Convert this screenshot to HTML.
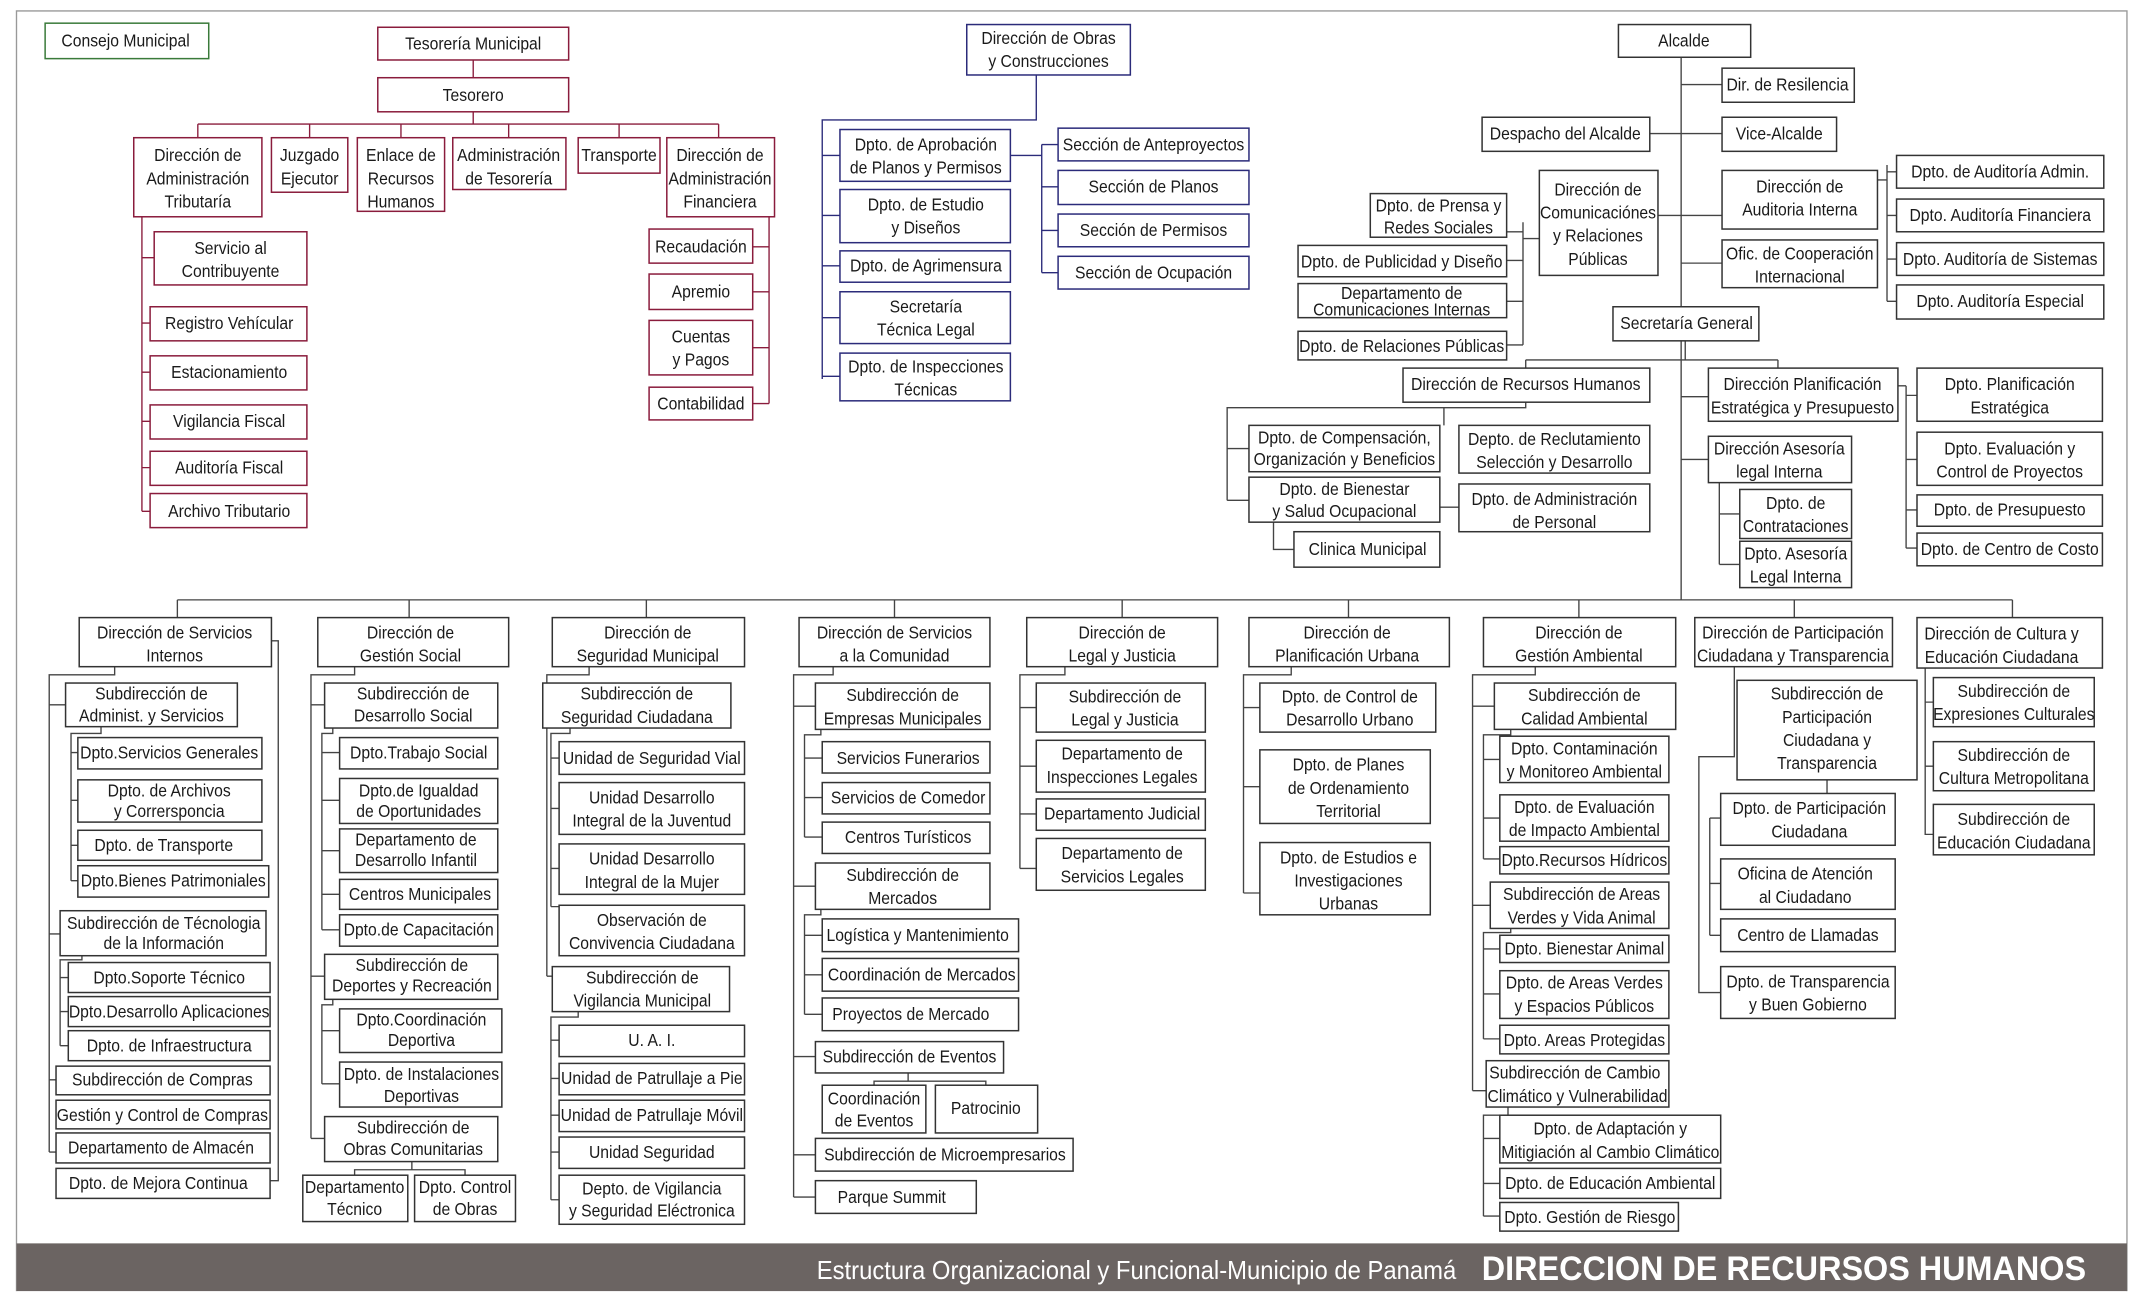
<!DOCTYPE html>
<html><head><meta charset="utf-8"><style>
html,body{margin:0;padding:0;background:#fff;width:2138px;height:1302px;overflow:hidden}
svg{display:block}
text{font-family:"Liberation Sans Narrow","Liberation Sans",sans-serif;font-size:12.8px;fill:#1a1a1a;text-anchor:middle;dominant-baseline:central;transform-box:fill-box;transform-origin:center;transform:scaleX(0.9)}
text.f{transform-origin:right center;transform:scaleX(0.92)}
text.h{transform-origin:right center;transform:scaleX(0.95)}
rect{fill:#fff;stroke:#333;stroke-width:1.1}
.r rect{stroke:#8a1c3c}
.n rect{stroke:#2b2b7a}
.g rect{stroke:#3a7a3a}
path{fill:none;stroke:#444;stroke-width:1}
.r path{stroke:#8a1c3c}
.n path{stroke:#2b2b7a}
</style></head><body>
<svg width="2138" height="1302" viewBox="0 0 1568 955" xmlns="http://www.w3.org/2000/svg">
<path d="M12 947V8H1560V947" style="stroke:#999"/>
<g class="g"><rect x="33" y="17" width="120" height="26"/><text x="92" y="30">Consejo Municipal</text></g>

<g class="r">
<path d="M347 44V57M347 82V91M145 91H527M145 91V101M227 91V101M294 91V101M373 91V101M454 91V101M527 91V101"/>
<path d="M104 159V375M104 189H113M104 237H110M104 273H110M104 309H110M104 343H110M104 375H110"/>
<path d="M564 159V296M552 181H564M552 214H564M552 255H564M552 296H564"/>
<rect x="277" y="20" width="140" height="24"/><text x="347" y="32">Tesorería Municipal</text>
<rect x="277" y="57" width="140" height="25"/><text x="347" y="70">Tesorero</text>
<rect x="98" y="101" width="94" height="58"/><text x="145" y="114">Dirección de</text><text x="145" y="131">Administración</text><text x="145" y="148">Tributaría</text>
<rect x="199" y="101" width="56" height="40"/><text x="227" y="114">Juzgado</text><text x="227" y="131">Ejecutor</text>
<rect x="262" y="101" width="64" height="54"/><text x="294" y="114">Enlace de</text><text x="294" y="131">Recursos</text><text x="294" y="148">Humanos</text>
<rect x="332" y="101" width="83" height="38"/><text x="373" y="114">Administración</text><text x="373" y="131">de Tesorería</text>
<rect x="424" y="101" width="60" height="26"/><text x="454" y="114">Transporte</text>
<rect x="489" y="101" width="79" height="58"/><text x="528" y="114">Dirección de</text><text x="528" y="131">Administración</text><text x="528" y="148">Financiera</text>
<rect x="113" y="170" width="112" height="39"/><text x="169" y="182">Servicio al</text><text x="169" y="199">Contribuyente</text>
<rect x="110" y="225" width="115" height="25"/><text x="168" y="237">Registro Vehícular</text>
<rect x="110" y="261" width="115" height="25"/><text x="168" y="273">Estacionamiento</text>
<rect x="110" y="297" width="115" height="25"/><text x="168" y="309">Vigilancia Fiscal</text>
<rect x="110" y="331" width="115" height="25"/><text x="168" y="343">Auditoría Fiscal</text>
<rect x="110" y="362" width="115" height="25"/><text x="168" y="375">Archivo Tributario</text>
<rect x="476" y="168" width="76" height="25"/><text x="514" y="181">Recaudación</text>
<rect x="476" y="201" width="76" height="26"/><text x="514" y="214">Apremio</text>
<rect x="476" y="235" width="76" height="40"/><text x="514" y="247">Cuentas</text><text x="514" y="264">y Pagos</text>
<rect x="476" y="284" width="76" height="24"/><text x="514" y="296">Contabilidad</text>
</g>

<g class="n">
<path d="M760 55V88H603V278M603 114H616M603 158H616M603 195H616M603 233H616M603 276H616M741 114H764M764 106V200M764 106H776M764 137H776M764 169H776M764 200H776"/>
<rect x="709" y="18" width="120" height="37"/><text x="769" y="28">Dirección de Obras</text><text x="769" y="45">y Construcciones</text>
<rect x="616" y="95" width="125" height="38"/><text x="679" y="106">Dpto. de Aprobación</text><text x="679" y="123">de Planos y Permisos</text>
<rect x="616" y="139" width="125" height="39"/><text x="679" y="150">Dpto. de Estudio</text><text x="679" y="167">y Diseños</text>
<rect x="616" y="184" width="125" height="23"/><text x="679" y="195">Dpto. de Agrimensura</text>
<rect x="616" y="214" width="125" height="38"/><text x="679" y="225">Secretaría</text><text x="679" y="242">Técnica Legal</text>
<rect x="616" y="259" width="125" height="35"/><text x="679" y="269">Dpto. de Inspecciones</text><text x="679" y="286">Técnicas</text>
<rect x="776" y="94" width="140" height="24"/><text x="846" y="106">Sección de Anteproyectos</text>
<rect x="776" y="125" width="140" height="25"/><text x="846" y="137">Sección de Planos</text>
<rect x="776" y="157" width="140" height="24"/><text x="846" y="169">Sección de Permisos</text>
<rect x="776" y="188" width="140" height="24"/><text x="846" y="200">Sección de Ocupación</text>
</g>

<!-- Alcalde -->
<path d="M1233 42V440M1233 62H1263M1233 98H1263M1210 98H1233M1216 158H1263M1233 193H1263M1377 132H1384M1384 121V221M1384 126H1391M1384 158H1391M1384 190H1391M1384 221H1391"/>
<path d="M1117 163V253M1105 170H1117M1105 191H1117M1105 221H1117M1105 253H1117M1117 175H1129"/>
<path d="M1236 250V264M1119 264H1304M1119 264V270M1304 264V270M1233 291H1253M1233 337H1253M1392 283H1398M1398 283V402M1398 290H1406M1398 337H1406M1398 374H1406M1398 402H1406M1261 354V414M1261 377H1276M1261 414H1276"/>
<path d="M1119 295V299H900V367M900 329H916M900 367H916M1059 299V312M1056 372H1070M934 383V403H949"/>
<rect x="1187" y="18" width="97" height="24"/><text x="1235" y="30">Alcalde</text>
<rect x="1263" y="50" width="97" height="25"/><text x="1311" y="62">Dir. de Resilencia</text>
<rect x="1263" y="86" width="84" height="25"/><text x="1305" y="98">Vice-Alcalde</text>
<rect x="1087" y="86" width="123" height="25"/><text x="1148" y="98">Despacho del Alcalde</text>
<rect x="1129" y="125" width="87" height="77"/><text x="1172" y="139">Dirección de</text><text x="1172" y="156">Comunicaciónes</text><text x="1172" y="173">y Relaciones</text><text x="1172" y="190">Públicas</text>
<rect x="1005" y="142" width="100" height="32"/><text x="1055" y="151">Dpto. de Prensa y</text><text x="1055" y="167">Redes Sociales</text>
<rect x="952" y="180" width="153" height="23"/><text x="1028" y="192">Dpto. de Publicidad y Diseño</text>
<rect x="952" y="208" width="153" height="25"/><text x="1028" y="215">Departamento de</text><text x="1028" y="227">Comunicaciones Internas</text>
<rect x="952" y="243" width="153" height="21"/><text x="1028" y="254">Dpto. de Relaciones Públicas</text>
<rect x="1263" y="125" width="114" height="43"/><text x="1320" y="137">Dirección de</text><text x="1320" y="154">Auditoria Interna</text>
<rect x="1263" y="176" width="114" height="35"/><text x="1320" y="186">Ofic. de Cooperación</text><text x="1320" y="203">Internacional</text>
<rect x="1391" y="114" width="152" height="24"/><text x="1467" y="126">Dpto. de Auditoría Admin.</text>
<rect x="1391" y="146" width="152" height="24"/><text x="1467" y="158">Dpto. Auditoría Financiera</text>
<rect x="1391" y="178" width="152" height="24"/><text x="1467" y="190">Dpto. Auditoría de Sistemas</text>
<rect x="1391" y="209" width="152" height="25"/><text x="1467" y="221">Dpto. Auditoría Especial</text>
<rect x="1183" y="225" width="107" height="25"/><text x="1237" y="237">Secretaría General</text>
<rect x="1029" y="270" width="181" height="25"/><text x="1119" y="282">Dirección de Recursos Humanos</text>
<rect x="1253" y="270" width="139" height="39"/><text x="1322" y="282">Dirección Planificación</text><text x="1322" y="299">Estratégica y Presupuesto</text>
<rect x="1406" y="270" width="136" height="39"/><text x="1474" y="282">Dpto. Planificación</text><text x="1474" y="299">Estratégica</text>
<rect x="1406" y="317" width="136" height="39"/><text x="1474" y="329">Dpto. Evaluación y</text><text x="1474" y="346">Control de Proyectos</text>
<rect x="1406" y="363" width="136" height="23"/><text x="1474" y="374">Dpto. de Presupuesto</text>
<rect x="1406" y="391" width="136" height="24"/><text x="1474" y="403">Dpto. de Centro de Costo</text>
<rect x="1253" y="320" width="105" height="34"/><text x="1305" y="329">Dirección Asesoría</text><text x="1305" y="346">legal Interna</text>
<rect x="1276" y="359" width="82" height="36"/><text x="1317" y="369">Dpto. de</text><text x="1317" y="386">Contrataciones</text>
<rect x="1276" y="397" width="82" height="34"/><text x="1317" y="406">Dpto. Asesoría</text><text x="1317" y="423">Legal Interna</text>
<rect x="916" y="312" width="140" height="34"/><text x="986" y="321">Dpto. de Compensación,</text><text x="986" y="337">Organización y Beneficios</text>
<rect x="1070" y="312" width="140" height="35"/><text x="1140" y="322">Depto. de Reclutamiento</text><text x="1140" y="339">Selección y Desarrollo</text>
<rect x="916" y="350" width="140" height="33"/><text x="986" y="359">Dpto. de Bienestar</text><text x="986" y="375">y Salud Ocupacional</text>
<rect x="1070" y="355" width="140" height="35"/><text x="1140" y="366">Dpto. de Administración</text><text x="1140" y="383">de Personal</text>
<rect x="949" y="390" width="107" height="26"/><text x="1003" y="403">Clinica Municipal</text>

<!-- main bus -->
<path d="M130 440H1476M130 440V453M300 440V453M474 440V453M656 440V453M823 440V453M989 440V453M1158 440V453M1316 440V453M1476 440V453"/>

<!-- col1 -->
<path d="M84 489V495H36V845M36 517H48M36 685H44M36 792H41M36 845H41M74 533V538H52V646M52 552H57M52 587H57M52 620H57M52 646H57M60 701V704H44V767M44 717H50M44 742H50M44 767H50M199 470H204V866H198"/>
<rect x="58" y="453" width="141" height="36"/><text x="128" y="464">Dirección de Servicios</text><text x="128" y="481">Internos</text>
<rect x="48" y="501" width="126" height="32"/><text x="111" y="509">Subdirección de</text><text x="111" y="525">Administ. y Servicios</text>
<rect x="57" y="541" width="135" height="23"/><text x="124" y="552">Dpto.Servicios Generales</text>
<rect x="57" y="572" width="135" height="31"/><text x="124" y="580">Dpto. de Archivos</text><text x="124" y="595">y Corrersponcia</text>
<rect x="57" y="609" width="135" height="22"/><text x="120" y="620">Dpto. de Transporte</text>
<rect x="57" y="635" width="140" height="23"/><text x="127" y="646">Dpto.Bienes Patrimoniales</text>
<rect x="44" y="668" width="151" height="33"/><text x="120" y="677">Subdirección de Técnologia</text><text x="120" y="692">de la Información</text>
<rect x="50" y="706" width="148" height="22"/><text x="124" y="717">Dpto.Soporte Técnico</text>
<rect x="50" y="731" width="148" height="22"/><text x="124" y="742">Dpto.Desarrollo Aplicaciones</text>
<rect x="50" y="756" width="148" height="22"/><text x="124" y="767">Dpto. de Infraestructura</text>
<rect x="41" y="782" width="157" height="21"/><text x="119" y="792">Subdirección de Compras</text>
<rect x="41" y="807" width="157" height="21"/><text x="119" y="818">Gestión y Control de Compras</text>
<rect x="41" y="831" width="157" height="22"/><text x="118" y="842">Departamento de Almacén</text>
<rect x="41" y="857" width="157" height="22"/><text x="116" y="868">Dpto. de Mejora Continua</text>

<!-- col2 -->
<path d="M260 489V495H228V835M228 517H238M228 716H238M228 835H238M244 534V538H236V682M236 552H249M236 587H249M236 624H249M236 656H249M236 682H249M244 733V737H236V795M236 756H249M236 795H249M302 852V858H260V862M302 858H341V862"/>
<rect x="233" y="453" width="140" height="36"/><text x="301" y="464">Dirección de</text><text x="301" y="481">Gestión Social</text>
<rect x="238" y="501" width="127" height="33"/><text x="303" y="509">Subdirección de</text><text x="303" y="525">Desarrollo Social</text>
<rect x="249" y="541" width="116" height="23"/><text x="307" y="552">Dpto.Trabajo Social</text>
<rect x="249" y="571" width="116" height="33"/><text x="307" y="580">Dpto.de Igualdad</text><text x="307" y="595">de Oportunidades</text>
<rect x="249" y="608" width="116" height="32"/><text x="305" y="616">Departamento de</text><text x="305" y="631">Desarrollo Infantil</text>
<rect x="249" y="645" width="116" height="22"/><text x="308" y="656">Centros Municipales</text>
<rect x="249" y="671" width="116" height="23"/><text x="307" y="682">Dpto.de Capacitación</text>
<rect x="238" y="700" width="127" height="33"/><text x="302" y="708">Subdirección de</text><text x="302" y="723">Deportes y Recreación</text>
<rect x="249" y="740" width="119" height="32"/><text x="309" y="748">Dpto.Coordinación</text><text x="309" y="763">Deportiva</text>
<rect x="249" y="779" width="119" height="33"/><text x="309" y="788">Dpto. de Instalaciones</text><text x="309" y="804">Deportivas</text>
<rect x="238" y="819" width="127" height="33"/><text x="303" y="827">Subdirección de</text><text x="303" y="843">Obras Comunitarias</text>
<rect x="222" y="862" width="77" height="34"/><text x="260" y="871">Departamento</text><text x="260" y="887">Técnico</text>
<rect x="304" y="862" width="74" height="34"/><text x="341" y="871">Dpto. Control</text><text x="341" y="887">de Obras</text>

<!-- col3 -->
<path d="M432 489V495H401V716M401 517H398M401 716H405M418 534V538H404V665M404 556H410M404 593H410M404 637H410M404 665H410M424 742V746H404V880M404 763H410M404 791H410M404 818H410M404 845H410M404 880H410"/>
<rect x="405" y="453" width="141" height="36"/><text x="475" y="464">Dirección de</text><text x="475" y="481">Seguridad Municipal</text>
<rect x="398" y="501" width="138" height="33"/><text x="467" y="509">Subdirección de</text><text x="467" y="526">Seguridad Ciudadana</text>
<rect x="410" y="544" width="136" height="24"/><text x="478" y="556">Unidad de Seguridad Vial</text>
<rect x="410" y="574" width="136" height="38"/><text x="478" y="585">Unidad Desarrollo</text><text x="478" y="602">Integral de la Juventud</text>
<rect x="410" y="619" width="136" height="37"/><text x="478" y="630">Unidad Desarrollo</text><text x="478" y="647">Integral de la Mujer</text>
<rect x="410" y="664" width="136" height="37"/><text x="478" y="675">Observación de</text><text x="478" y="692">Convivencia Ciudadana</text>
<rect x="405" y="709" width="130" height="33"/><text x="471" y="717">Subdirección de</text><text x="471" y="734">Vigilancia Municipal</text>
<rect x="410" y="752" width="136" height="23"/><text x="478" y="763">U. A. I.</text>
<rect x="410" y="780" width="136" height="23"/><text x="478" y="791">Unidad de Patrullaje a Pie</text>
<rect x="410" y="807" width="136" height="23"/><text x="478" y="818">Unidad de Patrullaje Móvil</text>
<rect x="410" y="834" width="136" height="23"/><text x="478" y="845">Unidad Seguridad</text>
<rect x="410" y="862" width="136" height="36"/><text x="478" y="872">Depto. de Vigilancia</text><text x="478" y="888">y Seguridad Eléctronica</text>

<!-- col4 -->
<path d="M611 489V495H582V878M582 518H598M582 650H598M582 775H598M582 847H598M582 878H598M602 535V539H590V614M590 556H603M590 585H603M590 614H603M602 667V671H590V744M590 686H603M590 715H603M590 744H603M666 787V793H641V796M666 793H723V796"/>
<rect x="586" y="453" width="140" height="36"/><text x="656" y="464">Dirección de Servicios</text><text x="656" y="481">a la Comunidad</text>
<rect x="598" y="501" width="128" height="34"/><text x="662" y="510">Subdirección de</text><text x="662" y="527">Empresas Municipales</text>
<rect x="603" y="544" width="123" height="23"/><text x="666" y="556">Servicios Funerarios</text>
<rect x="603" y="574" width="123" height="23"/><text x="666" y="585">Servicios de Comedor</text>
<rect x="603" y="603" width="123" height="23"/><text x="666" y="614">Centros Turísticos</text>
<rect x="598" y="633" width="128" height="34"/><text x="662" y="642">Subdirección de</text><text x="662" y="659">Mercados</text>
<rect x="603" y="674" width="144" height="24"/><text x="673" y="686">Logística y Mantenimiento</text>
<rect x="603" y="703" width="144" height="24"/><text x="676" y="715">Coordinación de Mercados</text>
<rect x="603" y="732" width="144" height="24"/><text x="668" y="744">Proyectos de Mercado</text>
<rect x="598" y="764" width="138" height="23"/><text x="667" y="775">Subdirección de Eventos</text>
<rect x="603" y="796" width="76" height="35"/><text x="641" y="806">Coordinación</text><text x="641" y="822">de Eventos</text>
<rect x="686" y="796" width="75" height="35"/><text x="723" y="813">Patrocinio</text>
<rect x="598" y="835" width="189" height="24"/><text x="693" y="847">Subdirección de Microempresarios</text>
<rect x="598" y="866" width="118" height="24"/><text x="654" y="878">Parque Summit</text>

<!-- col5 -->
<path d="M781 489V495H748V637M748 519H760M748 562H760M748 597H760M748 637H760"/>
<rect x="753" y="453" width="140" height="36"/><text x="823" y="464">Dirección de</text><text x="823" y="481">Legal y Justicia</text>
<rect x="760" y="501" width="124" height="36"/><text x="825" y="511">Subdirección de</text><text x="825" y="528">Legal y Justicia</text>
<rect x="760" y="543" width="124" height="38"/><text x="823" y="553">Departamento de</text><text x="823" y="570">Inspecciones Legales</text>
<rect x="760" y="586" width="124" height="23"/><text x="823" y="597">Departamento Judicial</text>
<rect x="760" y="615" width="124" height="38"/><text x="823" y="626">Departamento de</text><text x="823" y="643">Servicios Legales</text>

<!-- col6 -->
<path d="M947 489V495H912V655M912 519H924M912 577H924M912 655H930"/>
<rect x="916" y="453" width="147" height="36"/><text x="988" y="464">Dirección de</text><text x="988" y="481">Planificación Urbana</text>
<rect x="924" y="501" width="129" height="36"/><text x="990" y="511">Dpto. de Control de</text><text x="990" y="528">Desarrollo Urbano</text>
<rect x="924" y="550" width="125" height="54"/><text x="989" y="561">Dpto. de Planes</text><text x="989" y="578">de Ordenamiento</text><text x="989" y="595">Territorial</text>
<rect x="924" y="618" width="125" height="53"/><text x="989" y="629">Dpto. de Estudios e</text><text x="989" y="646">Investigaciones</text><text x="989" y="663">Urbanas</text>
<!-- col7 -->
<path d="M1126 489V495H1080V800M1080 518H1096M1080 664H1093M1080 800H1090M1108 535V539H1088V630M1088 557H1100M1088 600H1100M1088 630H1100M1108 681V684H1088V762M1088 696H1100M1088 729H1100M1088 762H1100M1106 812V818H1088V892M1088 835H1100M1088 868H1100M1088 892H1100"/>
<rect x="1088" y="453" width="141" height="36"/><text x="1158" y="464">Dirección de</text><text x="1158" y="481">Gestión Ambiental</text>
<rect x="1096" y="501" width="133" height="34"/><text x="1162" y="510">Subdirección de</text><text x="1162" y="527">Calidad Ambiental</text>
<rect x="1100" y="540" width="124" height="34"/><text x="1162" y="549">Dpto. Contaminación</text><text x="1162" y="566">y Monitoreo Ambiental</text>
<rect x="1100" y="583" width="124" height="34"/><text x="1162" y="592">Dpto. de Evaluación</text><text x="1162" y="609">de Impacto Ambiental</text>
<rect x="1100" y="621" width="124" height="20"/><text x="1162" y="631">Dpto.Recursos Hídricos</text>
<rect x="1093" y="647" width="131" height="34"/><text x="1160" y="656">Subdirección de Areas</text><text x="1160" y="673">Verdes y Vida Animal</text>
<rect x="1100" y="686" width="124" height="20"/><text x="1162" y="696">Dpto. Bienestar Animal</text>
<rect x="1100" y="712" width="124" height="35"/><text x="1162" y="721">Dpto. de Areas Verdes</text><text x="1162" y="738">y Espacios Públicos</text>
<rect x="1100" y="752" width="124" height="21"/><text x="1162" y="763">Dpto. Areas Protegidas</text>
<rect x="1090" y="778" width="134" height="34"/><text x="1155" y="787">Subdirección de Cambio</text><text x="1157" y="804">Climático y Vulnerabilidad</text>
<rect x="1100" y="818" width="162" height="35"/><text x="1181" y="828">Dpto. de Adaptación y</text><text x="1181" y="845">Mitigiación al Cambio Climático</text>
<rect x="1100" y="857" width="162" height="22"/><text x="1181" y="868">Dpto. de Educación Ambiental</text>
<rect x="1100" y="882" width="131" height="21"/><text x="1166" y="893">Dpto. Gestión de Riesgo</text>
<!-- col8 -->
<path d="M1272 489V555H1246V728H1262M1340 572V582M1254 600V686M1254 600H1262M1254 648H1262M1254 686H1262"/>
<rect x="1243" y="453" width="145" height="36"/><text x="1315" y="464">Dirección de Participación</text><text x="1315" y="481">Ciudadana y Transparencia</text>
<rect x="1274" y="499" width="132" height="73"/><text x="1340" y="509">Subdirección de</text><text x="1340" y="526">Participación</text><text x="1340" y="543">Ciudadana y</text><text x="1340" y="560">Transparencia</text>
<rect x="1262" y="582" width="128" height="38"/><text x="1327" y="593">Dpto. de Participación</text><text x="1327" y="610">Ciudadana</text>
<rect x="1262" y="630" width="128" height="37"/><text x="1324" y="641">Oficina de Atención</text><text x="1324" y="658">al Ciudadano</text>
<rect x="1262" y="674" width="128" height="24"/><text x="1326" y="686">Centro de Llamadas</text>
<rect x="1262" y="709" width="128" height="38"/><text x="1326" y="720">Dpto. de Transparencia</text><text x="1326" y="737">y Buen Gobierno</text>
<!-- col9 -->
<path d="M1412 489V612H1418M1412 515H1418M1412 562H1418"/>
<rect x="1406" y="453" width="136" height="37"/><text x="1468" y="465">Dirección de Cultura y</text><text x="1468" y="482">Educación Ciudadana</text>
<rect x="1418" y="497" width="118" height="36"/><text x="1477" y="507">Subdirección de</text><text x="1477" y="524">Expresiones Culturales</text>
<rect x="1418" y="544" width="118" height="36"/><text x="1477" y="554">Subdirección de</text><text x="1477" y="571">Cultura Metropolitana</text>
<rect x="1418" y="590" width="118" height="37"/><text x="1477" y="601">Subdirección de</text><text x="1477" y="618">Educación Ciudadana</text>

<rect x="12" y="912" width="1548" height="35" style="fill:#6b6462;stroke:none"/>
<text class="f" x="1068" y="932" style="fill:#fff;font-size:19px;text-anchor:end">Estructura Organizacional y Funcional-Municipio de Panamá</text>
<text class="h" x="1530" y="931" style="fill:#fff;font-size:25px;font-weight:bold;text-anchor:end">DIRECCION DE RECURSOS HUMANOS</text>
</svg>
</body></html>
